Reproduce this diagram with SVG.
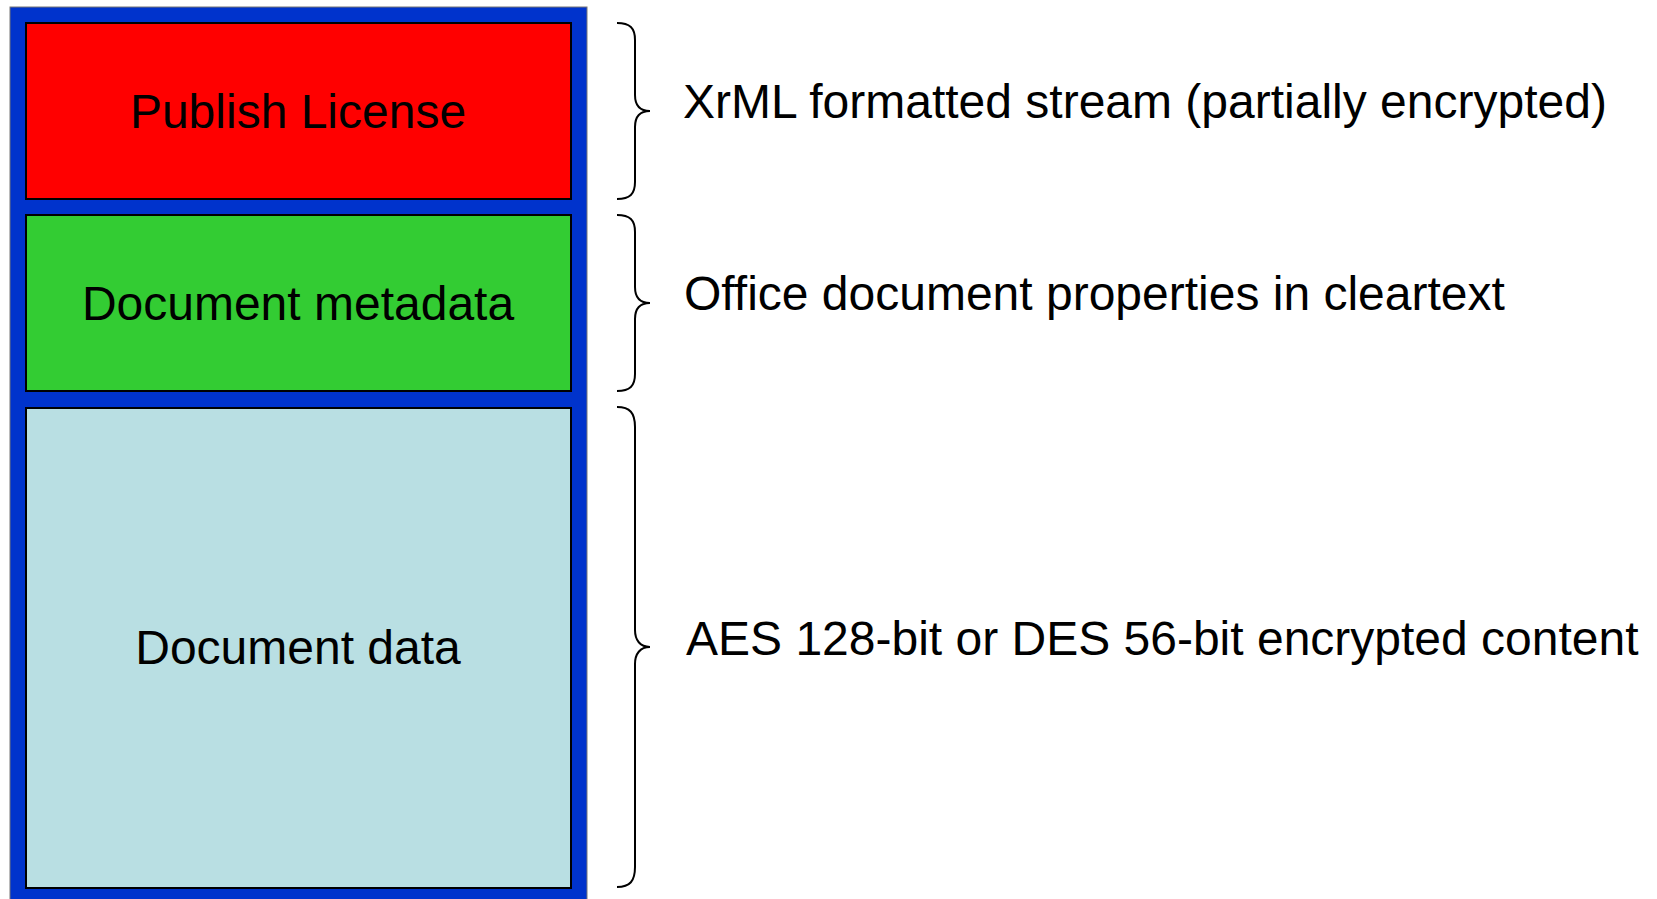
<svg xmlns="http://www.w3.org/2000/svg" width="1657" height="899" viewBox="0 0 1657 899">
<style>
.box{stroke:#000;stroke-width:2}
.lbl{font-family:"Liberation Sans",Arial,sans-serif;font-size:48px;fill:#000;text-anchor:middle}
.note{font-family:"Liberation Sans",Arial,sans-serif;font-size:48px;fill:#000}
.brace{fill:none;stroke:#000;stroke-width:2}
</style>
<rect width="1657" height="899" fill="#fff"/>
<g id="container">
<rect x="10" y="7" width="577" height="900" fill="#0033CC" stroke="#777" stroke-width="1"/>
</g>
<g id="publish-license">
<rect class="box" x="26" y="23" width="545" height="176" fill="#FF0000"/>
<text class="lbl" x="298" y="128">Publish License</text>
</g>
<g id="document-metadata">
<rect class="box" x="26" y="215" width="545" height="176" fill="#33CC33"/>
<text class="lbl" x="298" y="320">Document metadata</text>
</g>
<g id="document-data">
<rect class="box" x="26" y="408" width="545" height="480" fill="#B9DFE3"/>
<text class="lbl" x="298" y="664">Document data</text>
</g>
<g id="connectors">
<path class="brace" d="M617,23 C630,23 635,28 635,40 L635,95 C635,105 640,111 650,111 C640,111 635,117 635,127 L635,182 C635,194 630,199 617,199"/>
<path class="brace" d="M617,215 C630,215 635,220 635,232 L635,287 C635,297 640,303 650,303 C640,303 635,309 635,319 L635,374 C635,386 630,391 617,391"/>
<path class="brace" d="M617,407 C630,407 635,413 635,427 L635,630 C635,640 640,647 650,647 C640,647 635,654 635,664 L635,867 C635,881 630,887 617,887"/>
</g>
<g id="annotations">
<text class="note" x="683" y="118">XrML formatted stream (partially encrypted)</text>
<text class="note" x="684" y="310">Office document properties in cleartext</text>
<text class="note" x="686" y="655">AES 128-bit or DES 56-bit encrypted content</text>
</g>
</svg>
